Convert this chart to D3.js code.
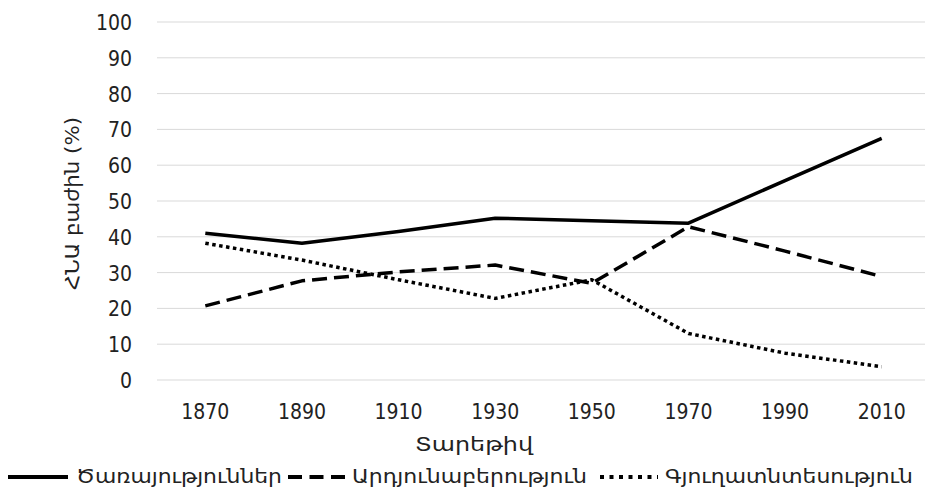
<!DOCTYPE html>
<html>
<head>
<meta charset="utf-8">
<script src="https://cdn.jsdelivr.net/npm/d3@7"></script>
<style>
  body { margin: 0; background: #fff; }
  svg text { font-family: "DejaVu Sans Condensed", "DejaVu Sans", sans-serif; fill: #222; }
</style>
</head>
<body>
<div class="box"></div>
<script>
// données
const annees = ['1870', '1890', '1910', '1930', '1950', '1970', '1990', '2010'];
const services = [41, 38.2, 41.5, 45.2, 44.5, 43.8, 55.7, 67.5];
const industrie = [20.7, 27.7, 30.2, 32.1, 27, 42.8, 36, 28.9];
const agriculture = [38.2, 33.5, 28, 22.8, 28, 13, 7.5, 3.7];
const yTicks = [0, 10, 20, 30, 40, 50, 60, 70, 80, 90, 100];
const noms = ['Ծառայություններ', 'Արդյունաբերություն', 'Գյուղատնտեսություն'];

const dims = {width: 925, height: 492};
const marge = {left: 157, right: 930, top: 22, bottom: 380};

const svg = d3.select('.box')
              .append('svg')
              .attr('width', dims.width)
              .attr('height', dims.height);

const x = d3.scaleBand()
            .domain(annees)
            .range([marge.left, marge.right]);

const y = d3.scaleLinear()
            .domain([0, 100])
            .range([marge.bottom, marge.top]);

// grille
svg.append('g')
   .selectAll('line')
   .data(yTicks)
   .enter()
   .append('line')
   .attr('x1', marge.left)
   .attr('x2', marge.right)
   .attr('y1', d => y(d))
   .attr('y2', d => y(d))
   .attr('stroke', '#d9d9d9')
   .attr('stroke-width', 1);

// axe y
const axeY = svg.append('g')
                .attr('transform', `translate(${marge.left - 25}, 0)`)
                .call(d3.axisLeft(y).tickValues(yTicks).tickSize(0).tickPadding(0));
axeY.select('.domain').remove();
axeY.selectAll('text').attr('font-size', 21).attr('dy', '0.36em');

// axe x
const axeX = svg.append('g')
                .attr('transform', `translate(0, ${marge.bottom + 24})`)
                .call(d3.axisBottom(x).tickSize(0).tickPadding(0));
axeX.select('.domain').remove();
axeX.selectAll('text').attr('font-size', 21).attr('dy', '0.71em');

// titres
svg.append('text')
   .attr('x', 415)
   .attr('y', 451)
   .attr('font-size', 20)
   .attr('textLength', 118)
   .attr('lengthAdjust', 'spacingAndGlyphs')
   .text('Տարեթիվ');

svg.append('text')
   .attr('transform', 'translate(79, 290) rotate(-90)')
   .attr('font-size', 20)
   .attr('textLength', 173)
   .attr('lengthAdjust', 'spacingAndGlyphs')
   .text('ՀՆԱ բաժին (%)');

// lignes
const series = [
  {nom: noms[0], valeurs: services, dash: null},
  {nom: noms[1], valeurs: industrie, dash: '15,7'},
  {nom: noms[2], valeurs: agriculture, dash: '3.5,3.5'}
];

const ligne = d3.line()
                .x((d, i) => x(annees[i]) + x.bandwidth() / 2)
                .y(d => y(d));

svg.append('g')
   .selectAll('path')
   .data(series)
   .enter()
   .append('path')
   .attr('d', d => ligne(d.valeurs))
   .attr('fill', 'none')
   .attr('stroke', '#000')
   .attr('stroke-width', 3.5)
   .attr('stroke-linejoin', 'round')
   .attr('stroke-dasharray', d => d.dash);

// légende
const legende = [
  {ligne: [8, 68], texte: [76, 206], dash: null},
  {ligne: [288, 345], texte: [352, 235], dash: '14,7.5'},
  {ligne: [600, 658], texte: [665, 248], dash: '4,5.5'}
];

const leg = svg.append('g')
               .selectAll('g')
               .data(series)
               .enter()
               .append('g')
               .attr('transform', 'translate(0, 477)');

leg.append('line')
   .attr('x1', (d, i) => legende[i].ligne[0])
   .attr('x2', (d, i) => legende[i].ligne[1])
   .attr('stroke', '#000')
   .attr('stroke-width', 4)
   .attr('stroke-dasharray', (d, i) => legende[i].dash);

leg.append('text')
   .attr('x', (d, i) => legende[i].texte[0])
   .attr('dy', '0.32em')
   .attr('font-size', 20)
   .attr('textLength', (d, i) => legende[i].texte[1])
   .attr('lengthAdjust', 'spacingAndGlyphs')
   .text(d => d.nom);
</script>
</body>
</html>
